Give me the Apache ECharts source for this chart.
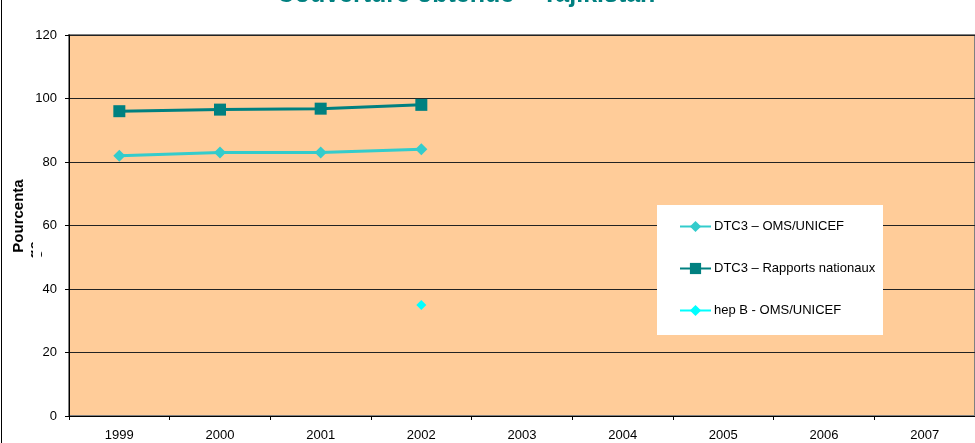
<!DOCTYPE html>
<html><head><meta charset="utf-8">
<script src="https://cdn.jsdelivr.net/npm/echarts@6/dist/echarts.min.js"></script>
<style>html,body{margin:0;padding:0;background:#fff}#c{width:975px;height:443px}</style>
</head><body><div id="c"></div>
<script>
var categories = ['1999','2000','2001','2002','2003','2004','2005','2006','2007'];
var dtc3Oms = [82, 83, 83, 84, null, null, null, null, null];
var dtc3Nat = [96, 96.5, 96.8, 98, null, null, null, null, null];
var hepBOms = [null, null, null, 35, null, null, null, null, null];
var yTicks = {min: 0, max: 120, interval: 20};
var titleText = 'Couverture obtenue – Tajikistan';
var yName1 = 'Pourcenta', yName2 = 'ge';
var seriesNames = ['DTC3 – OMS/UNICEF', 'DTC3 – Rapports nationaux', 'hep B - OMS/UNICEF'];

var chart = echarts.init(document.getElementById('c'), null, {renderer: 'canvas'});
var ff = 'Arial, "Liberation Sans", sans-serif';
chart.setOption({
  animation: false,
  backgroundColor: '#ffffff',
  grid: {left: 69, top: 35, width: 915, bottom: 27, show: true, backgroundColor: '#FFCC99', borderColor: '#808080', borderWidth: 2},
  xAxis: {
    type: 'category', data: categories, boundaryGap: true,
    axisLine: {lineStyle: {color: '#000', width: 1}},
    axisTick: {show: true, length: 4, lineStyle: {color: '#000'}},
    axisLabel: {fontFamily: ff, fontSize: 13, color: '#000', margin: 13},
    splitLine: {show: false}
  },
  yAxis: {
    type: 'value', min: yTicks.min, max: yTicks.max, interval: yTicks.interval,
    axisLine: {show: true, lineStyle: {color: '#000', width: 1}},
    axisTick: {show: true, length: 4, lineStyle: {color: '#000'}},
    axisLabel: {fontFamily: ff, fontSize: 13, color: '#000', margin: 12},
    splitLine: {show: true, lineStyle: {color: '#222', width: 1}}
  },
  legend: {
    orient: 'vertical', left: 679, top: 220, itemWidth: 31, itemHeight: 14, itemGap: 29,
    padding: 0, z: 10,
    textStyle: {fontFamily: ff, fontSize: 13, color: '#000', padding: [0,0,0,-2]},
    data: seriesNames
  },
  graphic: [
    {type: 'rect', z: 5, shape: {x: 657, y: 205, width: 226, height: 130}, style: {fill: '#ffffff'}},
    {type: 'line', z: 5, shape: {x1: 1.5, y1: 0, x2: 1.5, y2: 443}, style: {stroke: '#000', lineWidth: 1}},
    {type: 'text', z: 5, x: 466, y: 8, style: {text: titleText, fill: '#008080', font: 'bold 25px ' + ff, textAlign: 'center', textVerticalAlign: 'bottom'}},
    {type: 'text', z: 5, x: 19, y: 216, rotation: Math.PI / 2, style: {text: yName1, fill: '#000', font: 'bold 15px ' + ff, textAlign: 'center', textVerticalAlign: 'middle'}},
    {type: 'text', z: 5, x: 35, y: 250, rotation: Math.PI / 2, style: {text: yName2, fill: '#000', font: 'bold 15px ' + ff, textAlign: 'center', textVerticalAlign: 'middle'}},
    {type: 'rect', z: 6, shape: {x: 33, y: 236, width: 8, height: 30}, style: {fill: '#ffffff'}}
  ],
  series: [
    {name: seriesNames[0], type: 'line', data: dtc3Oms, symbol: 'diamond', symbolSize: 12,
      lineStyle: {color: '#33CCCC', width: 3}, itemStyle: {color: '#33CCCC'}, z: 3},
    {name: seriesNames[1], type: 'line', data: dtc3Nat, symbol: 'rect', symbolSize: 12,
      lineStyle: {color: '#008080', width: 3}, itemStyle: {color: '#008080'}, z: 3},
    {name: seriesNames[2], type: 'line', data: hepBOms, symbol: 'diamond', symbolSize: 10,
      lineStyle: {color: '#00FFFF', width: 3}, itemStyle: {color: '#00FFFF'}, z: 3}
  ]
});
</script></body></html>
